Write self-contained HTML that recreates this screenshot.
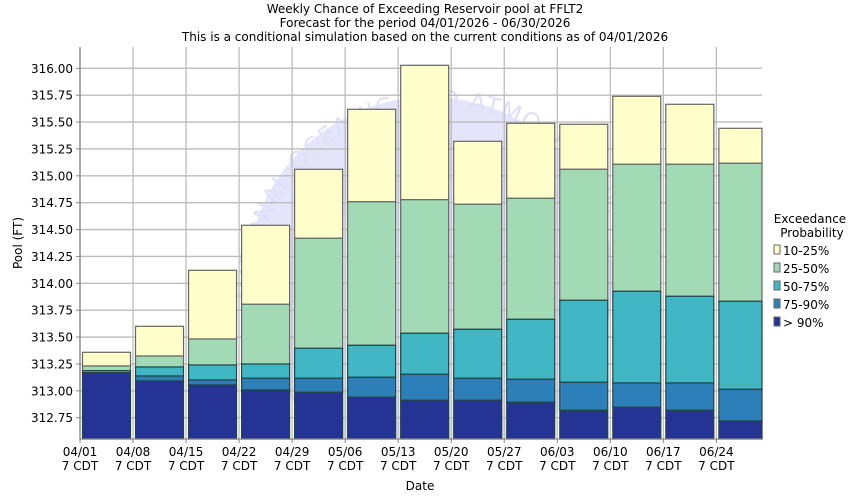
<!DOCTYPE html>
<html><head><meta charset="utf-8"><style>
html,body{margin:0;padding:0;background:#fff;}
svg{display:block;font-family:"DejaVu Sans","Liberation Sans",sans-serif;}
</style></head><body>
<svg width="850" height="500" viewBox="0 0 850 500" xmlns="http://www.w3.org/2000/svg">
<rect width="850" height="500" fill="#fff"/>
<text x="425" y="13" font-size="12" text-anchor="middle" fill="#000">Weekly Chance of Exceeding Reservoir pool at FFLT2</text>
<text x="425" y="27" font-size="12" text-anchor="middle" fill="#000">Forecast for the period 04/01/2026 - 06/30/2026</text>
<text x="425" y="41" font-size="12" text-anchor="middle" fill="#000">This is a conditional simulation based on the current conditions as of 04/01/2026</text>
<defs><clipPath id="pc"><rect x="80" y="47" width="682" height="392"/></clipPath>
<path id="arc" d="M 255 300 A 185 185 0 0 1 620 250"/></defs>
<g clip-path="url(#pc)">
<circle cx="430" cy="280" r="183" fill="#e4e5fb"/>
<circle cx="430" cy="300" r="120" fill="#e6ecfc"/>
<text font-size="24" fill="#dfe1f9" letter-spacing="1"><textPath href="#arc">NATIONAL OCEANIC AND ATMOSPHERIC</textPath></text>
</g>
<g stroke="#bcbcbc" stroke-width="1.3" id="grid"></g>
<g id="bars"></g>
<line x1="80" y1="47" x2="80" y2="439" stroke="#888" stroke-width="1.3"/>
<line x1="80" y1="439" x2="762" y2="439" stroke="#888" stroke-width="1.3"/>
<g id="labels" font-size="12" fill="#000"></g>
<text x="420" y="490" font-size="12" text-anchor="middle">Date</text>
<text transform="translate(22,243) rotate(-90)" font-size="12" text-anchor="middle">Pool (FT)</text>
<g font-size="12">
<text x="810" y="223" text-anchor="middle">Exceedance</text>
<text x="812" y="237" text-anchor="middle">Probability</text>
<rect x="774" y="245" width="6" height="9" fill="#ffffcc" stroke="#666"/><text x="783" y="255">10-25%</text>
<rect x="774" y="263" width="6" height="9" fill="#a1dab4" stroke="#666"/><text x="783" y="273">25-50%</text>
<rect x="774" y="281" width="6" height="9" fill="#41b6c4" stroke="#666"/><text x="783" y="291">50-75%</text>
<rect x="774" y="299" width="6" height="9" fill="#2c7fb8" stroke="#666"/><text x="783" y="309">75-90%</text>
<rect x="774" y="317" width="6" height="9" fill="#253494" stroke="#666"/><text x="783" y="327">&gt; 90%</text>
</g>
<script>
var ns="http://www.w3.org/2000/svg";
function el(t,a,p,txt){var e=document.createElementNS(ns,t);for(var k in a)e.setAttribute(k,a[k]);if(txt)e.textContent=txt;p.appendChild(e);return e;}
var g=document.getElementById('grid'),b=document.getElementById('bars'),L=document.getElementById('labels');
var step=53.03,pf=107.5;
for(var i=0;i<=13;i++){var v=316-0.25*i;var y=68.3+i*26.875;if(y>439)break;
 el('line',{x1:80,y1:y,x2:762,y2:y},g);
 el('line',{x1:76,y1:y,x2:80,y2:y,stroke:'#888'},L);
 el('text',{x:73,y:y+4.5,'text-anchor':'end'},L,v.toFixed(2));}
var dates=['04/01','04/08','04/15','04/22','04/29','05/06','05/13','05/20','05/27','06/03','06/10','06/17','06/24'];
for(var i=0;i<13;i++){var x=80+step*i;
 el('line',{x1:x,y1:47,x2:x,y2:439},g);
 el('line',{x1:x,y1:439,x2:x,y2:443,stroke:'#888'},L);
 el('text',{x:x,y:456,'text-anchor':'middle'},L,dates[i]);
 el('text',{x:x,y:470,'text-anchor':'middle'},L,'7 CDT');}
var d=[[352.3,366,370.7,372.7,373.3],[326.3,356,367,376,381],[270.3,339,365,380,385],[225.3,304.3,364,378.3,390],
[169.3,238.3,348.3,378.3,392.3],[109.3,201.7,345.3,377.3,397.3],[65.3,199.7,333.3,374.3,400.3],[141.3,204.3,329.3,378.3,400.3],
[123.3,198.3,319.3,379.3,402.3],[124.3,169.3,300.3,382.3,410.3],[96.3,164.3,291.3,383,407.3],[104.3,164.3,296.3,383,410.3],[128.3,163.3,301.3,389.3,421]];
var cols=['#ffffcc','#a1dab4','#41b6c4','#2c7fb8','#253494'];
for(var i=0;i<13;i++){var x=80+step*i+2.5;var w=Math.min(48,762-x);
 for(var j=0;j<5;j++){var y0=d[i][j];var y1=(j<4)?d[i][j+1]:439;
  el('rect',{x:x,y:y0,width:w,height:y1-y0,fill:cols[j],stroke:j<2?'#666':'#244',"stroke-width":1.2},b);}}
</script>
</svg>
</body></html>
